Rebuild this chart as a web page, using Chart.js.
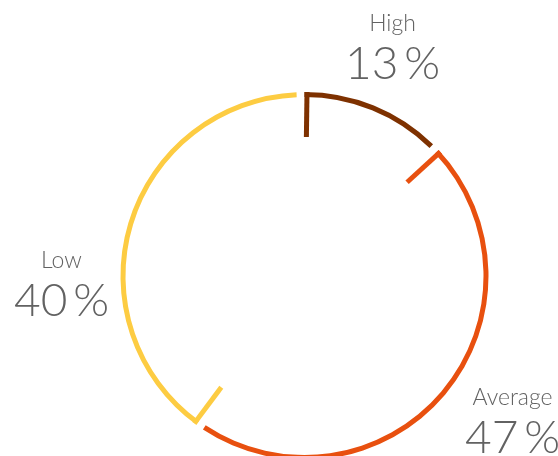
<!DOCTYPE html>
<html>
<head>
<meta charset="utf-8">
<script src="https://cdn.jsdelivr.net/npm/chart.js@4"></script>
<style>
  html, body { margin: 0; padding: 0; background: #fff; overflow: hidden; }
  #wrap { width: 558px; height: 456px; position: relative; }
</style>
</head>
<body>
<div id="wrap"><canvas id="riskChart"></canvas></div>
<script>
// Datos del gráfico
const categories = ['High', 'Average', 'Low'];
const shares = [13, 47, 40];
const colors = ['#7e3100', '#e8500f', '#fdcc42'];

// Ajustes del anillo
const RING_RADIUS = 184;
const RING_WIDTH = 5;
const TICK_LEN = 45;
const GAP_PX = 8;

// posición de las etiquetas respecto al centro del anillo
const labelOffsets = [[88, -245], [208, 129], [-243, -8]];

const ringExtras = {
    id: 'ringExtras',
    afterDatasetUpdate(chart) {
        // acortar el final de cada arco para dejar un pequeño hueco
        chart.getDatasetMeta(0).data.forEach(arc => {
            arc.endAngle -= GAP_PX / arc.outerRadius;
        });
    },
    afterDatasetsDraw(chart) {
        const ctx = chart.ctx;
        const arcs = chart.getDatasetMeta(0).data;
        ctx.save();
        arcs.forEach((arc, i) => {
            const r0 = arc.outerRadius;
            const a = arc.startAngle + (RING_WIDTH / 2) / r0;
            ctx.strokeStyle = colors[i];
            ctx.lineWidth = RING_WIDTH;
            ctx.lineCap = 'butt';
            ctx.beginPath();
            ctx.moveTo(arc.x + Math.cos(a) * r0, arc.y + Math.sin(a) * r0);
            ctx.lineTo(arc.x + Math.cos(a) * (r0 - TICK_LEN), arc.y + Math.sin(a) * (r0 - TICK_LEN));
            ctx.stroke();

            const [dx, dy] = labelOffsets[i];
            ctx.fillStyle = '#626262';
            ctx.textAlign = 'center';
            ctx.textBaseline = 'alphabetic';
            ctx.font = '300 23px Lato, "Open Sans", sans-serif';
            ctx.fillText(categories[i], arc.x + dx, arc.y + dy);
            ctx.font = '300 46px Lato, "Open Sans", sans-serif';
            ctx.fillText(shares[i] + '\u2009%', arc.x + dx, arc.y + dy + 48);
        });
        ctx.restore();
    }
};

new Chart(document.getElementById('riskChart'), {
    type: 'doughnut',
    data: {
        labels: categories,
        datasets: [{
            data: shares,
            backgroundColor: colors,
            borderWidth: 0
        }]
    },
    options: {
        responsive: true,
        maintainAspectRatio: false,
        animation: false,
        radius: RING_RADIUS,
        cutout: ((RING_RADIUS - RING_WIDTH) / RING_RADIUS * 100) + '%',
        layout: { padding: { left: 60, right: 9, top: 100, bottom: 4 } },
        plugins: {
            legend: { display: false },
            tooltip: { enabled: false }
        }
    },
    plugins: [ringExtras]
});
</script>
</body>
</html>
